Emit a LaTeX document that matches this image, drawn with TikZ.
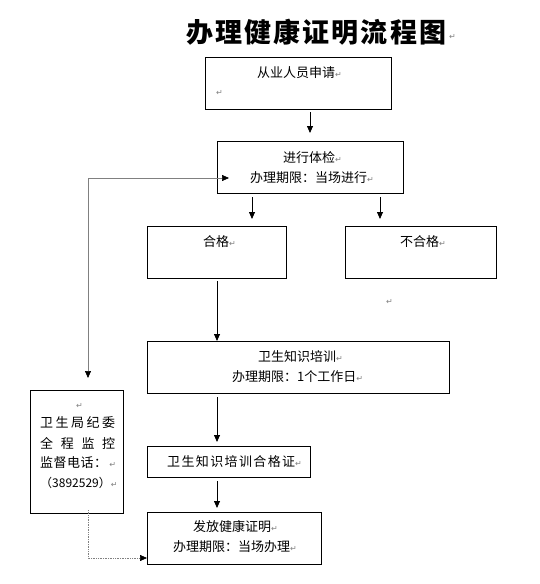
\documentclass[tikz,border=0pt]{standalone}
\usepackage{fontspec}
\setmainfont{Noto Sans CJK SC}
\newfontfamily\symfont{DejaVu Sans}
\usetikzlibrary{arrows.meta}
\newcommand\rmark{{\symfont\color{gray}\fontsize{8}{8}\selectfont ↵}}
\begin{document}
\begin{tikzpicture}[x=1pt,y=-1pt,
  box/.style={draw,line width=0.8pt,anchor=north west,inner sep=0pt,outer sep=0pt},
  txt/.style={font=\fontsize{13}{15}\selectfont,inner sep=0pt,anchor=west},
  mk/.style={font=\fontsize{8}{8}\selectfont,inner sep=0pt},
  arr/.style={line width=0.8pt,-{Triangle[length=7pt,width=6pt]}},
  garr/.style={draw=gray,line width=0.7pt,-{Triangle[length=7pt,width=6pt,color=black,fill=black]}},
  darr/.style={draw=gray,line width=0.7pt,densely dotted,-{Triangle[length=7pt,width=6pt,color=black,fill=black]}}]
\useasboundingbox[fill=white] (0,0) rectangle (539,584);

% title
\node[inner sep=0pt,anchor=west,font=\fontsize{27}{30}\selectfont\bfseries] (title) at (186,32)
  {\makebox[260pt][s]{办\hfill 理\hfill 健\hfill 康\hfill 证\hfill 明\hfill 流\hfill 程\hfill 图}};
\node[mk,anchor=west] (tmark) at (449,37) {\rmark};

% boxes
\node[box,minimum width=186pt,minimum height=52pt] (b1) at (205,57) {};
\node[box,minimum width=186pt,minimum height=52pt] (b2) at (217,141) {};
\node[box,minimum width=139pt,minimum height=52pt] (b3) at (147,226) {};
\node[box,minimum width=151pt,minimum height=52pt] (b4) at (345,226) {};
\node[box,minimum width=302pt,minimum height=52pt] (b5) at (147,341) {};
\node[box,minimum width=163pt,minimum height=31pt] (b6) at (147,446) {};
\node[box,minimum width=174pt,minimum height=52pt] (b7) at (147,512) {};
\node[box,minimum width=93pt,minimum height=123pt] (lb) at (30,390) {};

% texts
\node[txt] (t1) at (257,73) {从业人员申请\rmark};
\node[mk,anchor=west] (t1m) at (216,93) {\rmark};
\node[txt] (t2a) at (283,158) {进行体检\rmark};
\node[txt] (t2b) at (250,178) {办理期限：当场进行\rmark};
\node[txt] (t3) at (203,242) {合格\rmark};
\node[txt] (t4) at (400,242) {不合格\rmark};
\node[mk,anchor=west] (smark) at (386,302) {\rmark};
\node[txt] (t5a) at (258,357) {卫生知识培训\rmark};
\node[txt] (t5b) at (232,377) {办理期限：1个工作日\rmark};
\node[txt] (t6) at (167,462) {\makebox[128pt][s]{卫\hfill 生\hfill 知\hfill 识\hfill 培\hfill 训\hfill 合\hfill 格\hfill 证}\rmark};
\node[txt] (t7a) at (193,527) {发放健康证明\rmark};
\node[txt] (t7b) at (173,547) {办理期限：当场办理\rmark};

\node[mk,anchor=west] (lm) at (76,406) {\rmark};
\node[txt] (l1) at (40,423) {\makebox[75pt][s]{卫\hfill 生\hfill 局\hfill 纪\hfill 委}};
\node[txt] (l2) at (40,443) {\makebox[75pt][s]{全\hfill 程\hfill 监\hfill 控}};
\node[txt] (l3) at (40,463) {\makebox[67pt][s]{监\hfill 督\hfill 电\hfill 话\hfill ：}\,\rmark};
\node[txt,font=\fontsize{12}{14}\selectfont] (l4) at (40,483) {（3892529）\rmark};

% connectors
\draw[arr] ([yshift=-3pt]b1.south -| b2.north) -- ([yshift=8pt]b2.north);
\draw[arr] ([yshift=-4pt]b2.south -| 252,0) -- ([yshift=7pt]b3.north -| 252,0);
\draw[arr] ([yshift=-4pt]b2.south -| 380,0) -- ([yshift=7pt]b4.north -| 380,0);
\draw[arr] ([yshift=-3pt]b3.south -| 217,0) -- (b5.north -| 217,0);
\draw[arr] ([yshift=-4pt]b5.south -| 217,0) -- ([yshift=4pt]b6.north -| 217,0);
\draw[arr] ([yshift=-4pt]b6.south -| 217,0) -- ([yshift=4pt]b7.north -| 217,0);

\coordinate (corner) at (88,178);
\coordinate (entry) at (229,178);
\draw[garr] (corner) -- (entry);
\draw[garr] (corner) -- ([yshift=12pt]lb.north -| corner);
\coordinate (lbot) at (88,510);
\coordinate (dcorner) at (88,558);
\draw[darr] (lbot) -- (dcorner) -- (b7.west |- dcorner);
\end{tikzpicture}
\end{document}
